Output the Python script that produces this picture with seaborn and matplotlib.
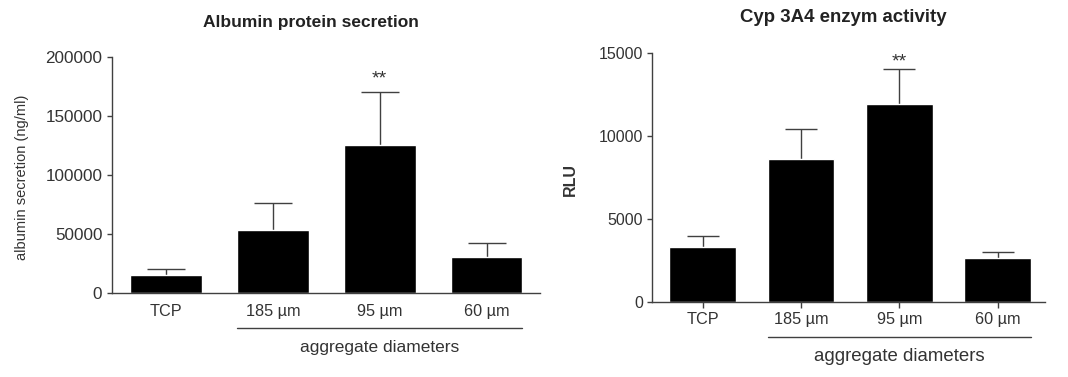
import numpy as np
import pandas as pd
import matplotlib
matplotlib.use("Agg")
import matplotlib.pyplot as plt
import seaborn as sns

groups = ["TCP", "185 µm", "95 µm", "60 µm"]
albumin_mean = [15300, 53400, 125400, 30500]
albumin_sem = [5000, 22900, 44900, 11900]
cyp_mean = [3310, 8610, 11930, 2650]
cyp_sem = [670, 1810, 2110, 360]

sns.set_style("ticks")
plt.rcParams["font.family"] = ["Liberation Sans", "DejaVu Sans"]
grey = "#404040"
txt = "#333333"

fig = plt.figure(figsize=(10.68, 3.77), dpi=100)
W, H = 1068, 377
# axes placed from pixel positions of the reference
ax1 = fig.add_axes([111.5 / W, 1 - 293 / H, (540 - 111.5) / W, 236 / H])
ax2 = fig.add_axes([652 / W, 1 - 302 / H, (1045 - 652) / W, 249 / H])


def panel(ax, means, errs, ymax, step, ylabel, ylab_kw, ylab_x, width, xlim,
          star_y, cap, ytick_fs, xtick_fs, xtick_len, xpad, line_y, text_y, text_fs):
    df = pd.DataFrame({"group": groups, "value": means})
    sns.barplot(data=df, x="group", y="value", color="black", width=width,
                errorbar=None, ax=ax, saturation=1)
    eb = ax.errorbar(range(4), means, yerr=[np.zeros(4), errs], fmt="none",
                     ecolor=grey, elinewidth=1.0, capsize=cap, capthick=1.0, zorder=0.5)
    for cl in eb[1]:
        if np.allclose(cl.get_ydata(), means):
            cl.set_visible(False)
    ax.set_ylim(0, ymax)
    ax.set_xlim(*xlim)
    ax.set_yticks(np.arange(0, ymax + 1, step))
    ax.set_xlabel("")
    ax.set_ylabel(ylabel, color=txt, **ylab_kw)
    ax.yaxis.set_label_coords(ylab_x, 0.49)
    for s in ["top", "right"]:
        ax.spines[s].set_visible(False)
    for s in ["left", "bottom"]:
        ax.spines[s].set_color(grey)
        ax.spines[s].set_linewidth(1.0)
    ax.tick_params(axis="y", colors=grey, labelcolor=txt, labelsize=ytick_fs,
                   length=3.6, width=1.0, pad=3)
    ax.tick_params(axis="x", colors=grey, labelcolor=txt, labelsize=xtick_fs,
                   width=1.0, length=xtick_len, pad=xpad)
    ax.text(2, star_y, "**", ha="center", va="center", fontsize=14, color=txt)
    ax.plot([1 - width / 2, 3 + width / 2], [line_y, line_y], color=grey, lw=1,
            clip_on=False, transform=ax.get_xaxis_transform())
    ax.text(2, text_y, "aggregate diameters", ha="center", va="center",
            fontsize=text_fs, color=txt, transform=ax.get_xaxis_transform())


panel(ax1, albumin_mean, albumin_sem, 200000, 50000, "albumin secretion (ng/ml)",
      {"fontsize": 10.5}, -0.193, 0.67, (-0.51, 3.5), 181000, 14, 12.3, 11.7, 0,
      8, -0.148, -0.229, 12.5)
panel(ax2, cyp_mean, cyp_sem, 15000, 5000, "RLU",
      {"fontsize": 11.5, "fontweight": "bold"}, -0.188, 0.68, (-0.514, 3.48),
      14450, 11.5, 11.5, 11.7, 4.5, 3, -0.141, -0.217, 13.4)

fig.text(311 / W, 1 - 23 / H, "Albumin protein secretion", ha="center", va="center",
         fontsize=12.5, fontweight="bold", color="#222222")
fig.text(843 / W, 1 - 18 / H, "Cyp 3A4 enzym activity", ha="center", va="center",
         fontsize=13.4, fontweight="bold", color="#222222")

fig.savefig("out.png", dpi=100)
